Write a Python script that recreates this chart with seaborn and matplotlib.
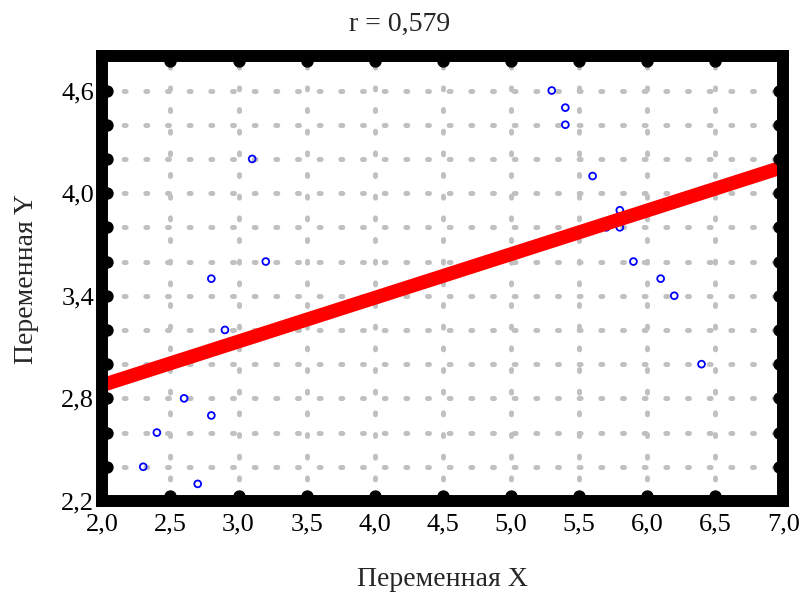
import numpy as np
import pandas as pd
import seaborn as sns
import matplotlib
matplotlib.use("Agg")
import matplotlib.pyplot as plt
from matplotlib.ticker import MultipleLocator, FuncFormatter
from matplotlib.transforms import blended_transform_factory, ScaledTranslation

# ---- data ----
x_values = [2.6, 2.8, 2.4, 2.3, 2.7, 3.1, 3.2, 2.8, 2.9,
            5.3, 5.4, 5.4, 5.6, 5.8, 5.8, 5.7, 5.9, 6.1, 6.2, 6.4]
y_values = [2.8, 2.7, 2.6, 2.4, 2.3, 4.2, 3.6, 3.5, 3.2,
            4.6, 4.5, 4.4, 4.1, 3.9, 3.8, 3.8, 3.6, 3.5, 3.4, 3.0]
title_text = "r = 0,579"
x_label = "Переменная X"
y_label = "Переменная Y"

df = pd.DataFrame({"x": x_values, "y": y_values})

sns.set_style("white")
plt.rcParams["font.family"] = ["Liberation Serif", "DejaVu Serif"]
plt.rcParams["lines.scale_dashes"] = False

fig = plt.figure(figsize=(8.0, 5.94), dpi=100)
ax = fig.add_axes([0.128, 0.1566, 0.851, 0.7486])

ax.set_xlim(2.0, 7.0)
ax.set_ylim(2.2, 4.8)
ax.xaxis.set_major_locator(MultipleLocator(0.5))
ax.yaxis.set_major_locator(MultipleLocator(0.6, offset=0.4))
ax.yaxis.set_minor_locator(MultipleLocator(0.2))

fmt = FuncFormatter(lambda v, p: f"{v:.1f}".replace(".", ","))
ax.xaxis.set_major_formatter(fmt)
ax.yaxis.set_major_formatter(fmt)

grid_kw = dict(color="#c0c0c0", linewidth=3.6, dashes=(1.4, 14.2),
               dash_capstyle="round")
ax.grid(True, which="both", axis="y", **grid_kw)
ax.grid(True, which="major", axis="x", **grid_kw)
ax.set_axisbelow(True)

sns.scatterplot(data=df, x="x", y="y", ax=ax, marker="o", s=24,
                facecolors="none", edgecolor="#0000ff", linewidth=1.3,
                zorder=3)
sns.regplot(data=df, x="x", y="y", ax=ax, scatter=False, ci=None,
            truncate=False, color="#ff0000",
            line_kws=dict(linewidth=10, solid_capstyle="butt", zorder=4))
ax.set_xlim(2.0, 7.0)
ax.set_ylim(2.2, 4.8)

for s in ax.spines.values():
    s.set_visible(True)
    s.set_color("black")
    s.set_linewidth(8.6)
    s.set_zorder(6)

ax.tick_params(which="both", length=0, labelsize=19, colors="black")
ax.tick_params(axis="x", pad=9)
ax.tick_params(axis="y", pad=6)

ax.set_xlabel(x_label, fontsize=20, labelpad=23)
ax.set_ylabel(y_label, fontsize=20, labelpad=16)
ax.set_title(title_text, fontsize=20, pad=18, x=0.437)

# round tick bumps on the inner side of the frame
off = 4.5 / 100.0
xt = [v for v in ax.get_xticks() if 2.0 < v < 7.0]
yt = sorted(set(list(ax.get_yticks()) + list(ax.yaxis.get_minorticklocs())))
yt = [v for v in yt if 2.2 + 1e-6 < v < 4.8 - 1e-6]
bump = dict(marker="o", ms=7.9, color="black", linestyle="none",
            clip_on=False, zorder=7)
tb = blended_transform_factory(ax.transData, ax.transAxes)
lb = blended_transform_factory(ax.transAxes, ax.transData)
ax.plot(xt, [0] * len(xt), transform=tb + ScaledTranslation(0, off, fig.dpi_scale_trans), **bump)
ax.plot(xt, [1] * len(xt), transform=tb + ScaledTranslation(0, -off, fig.dpi_scale_trans), **bump)
ax.plot([0] * len(yt), yt, transform=lb + ScaledTranslation(off, 0, fig.dpi_scale_trans), **bump)
ax.plot([1] * len(yt), yt, transform=lb + ScaledTranslation(-off, 0, fig.dpi_scale_trans), **bump)

fig.savefig("out.png", dpi=100)
